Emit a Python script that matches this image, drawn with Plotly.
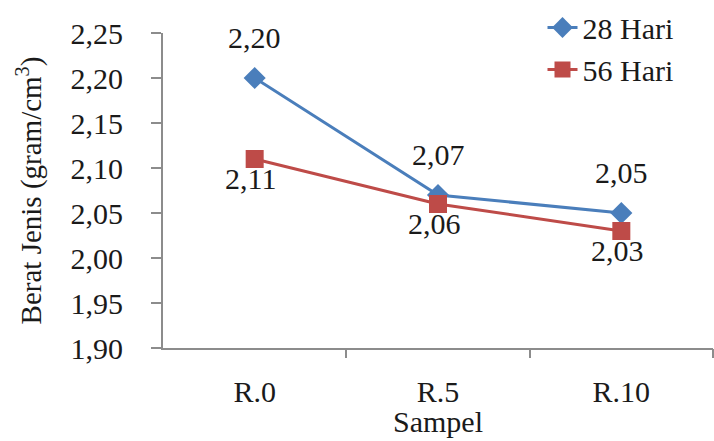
import plotly.graph_objects as go

categories = ["R.0", "R.5", "R.10"]
hari28 = [2.20, 2.07, 2.05]
hari56 = [2.11, 2.06, 2.03]
series_names = ["28 Hari", "56 Hari"]
y_ticks = [1.90, 1.95, 2.00, 2.05, 2.10, 2.15, 2.20, 2.25]
boundaries = [0.5, 1.5, 2.5]

FONT = "Times New Roman"
BLUE = "#4a7ebb"
RED = "#be4b48"
AXIS = "#8c8c8c"
TXT = "#1a1a1a"
FS = 30

xpos = list(range(len(categories)))
xrange = [-0.5, 2.5]

fig = go.Figure()
fig.add_trace(go.Scatter(
    x=xpos, y=hari28, name=series_names[0], mode="lines+markers",
    line=dict(color=BLUE, width=3),
    marker=dict(symbol="diamond", size=17, color=BLUE),
))
fig.add_trace(go.Scatter(
    x=xpos, y=hari56, name=series_names[1], mode="lines+markers",
    line=dict(color=RED, width=3),
    marker=dict(symbol="square", size=18, color=RED),
))

for xi, v in zip(xpos, hari28):
    fig.add_annotation(x=xi, y=v, text=f"{v:.2f}".replace(".", ","),
                       showarrow=False, yshift=41,
                       font=dict(family=FONT, size=FS, color=TXT))
for xi, v in zip(xpos, hari56):
    fig.add_annotation(x=xi, y=v, text=f"{v:.2f}".replace(".", ","),
                       showarrow=False, yshift=-19, xshift=-4,
                       font=dict(family=FONT, size=FS, color=TXT))

# x-axis title placed just under the category labels
fig.add_annotation(xref="paper", yref="paper", x=0.5, y=-0.232,
                   yanchor="middle", text="Sampel", showarrow=False,
                   font=dict(family=FONT, size=FS, color=TXT))

fig.update_layout(
    width=714, height=441,
    margin=dict(l=163, r=1, t=25, b=93),
    paper_bgcolor="white", plot_bgcolor="white",
    separators=",.",
    font=dict(family=FONT, size=FS, color=TXT),
    showlegend=True,
    legend=dict(x=0.69, y=1.1, xanchor="left", yanchor="top",
                font=dict(family=FONT, size=FS, color=TXT),
                bgcolor="rgba(0,0,0,0)", tracegroupgap=0),
    xaxis=dict(
        range=xrange,
        tickmode="array", tickvals=xpos, ticktext=categories, ticks="",
        ticklabelstandoff=16,
        showline=True, linecolor=AXIS, linewidth=2,
        showgrid=False, zeroline=False,
        tickfont=dict(family=FONT, size=FS, color=TXT),
    ),
    xaxis2=dict(
        overlaying="x", side="bottom", anchor="y",
        range=xrange, tickmode="array", tickvals=boundaries,
        ticks="outside", ticklen=9, tickcolor=AXIS, tickwidth=2,
        showline=False, showgrid=False, zeroline=False,
        showticklabels=False,
    ),
    yaxis=dict(
        range=[1.90, 2.25],
        tickmode="array", tickvals=y_ticks, tickformat=".2f",
        ticks="outside", ticklen=10, tickcolor=AXIS, tickwidth=2,
        ticklabelstandoff=22,
        showline=True, linecolor=AXIS, linewidth=2,
        showgrid=False, zeroline=False,
        title=dict(text="Berat Jenis (gram/cm<sup>3</sup>)",
                   font=dict(family=FONT, size=29, color=TXT), standoff=20),
        tickfont=dict(family=FONT, size=FS, color=TXT),
    ),
)
# helper trace so the boundary-tick axis is drawn
fig.add_trace(go.Scatter(x=[None], y=[None], xaxis="x2", showlegend=False,
                         hoverinfo="skip"))

fig.write_html("out.html")
